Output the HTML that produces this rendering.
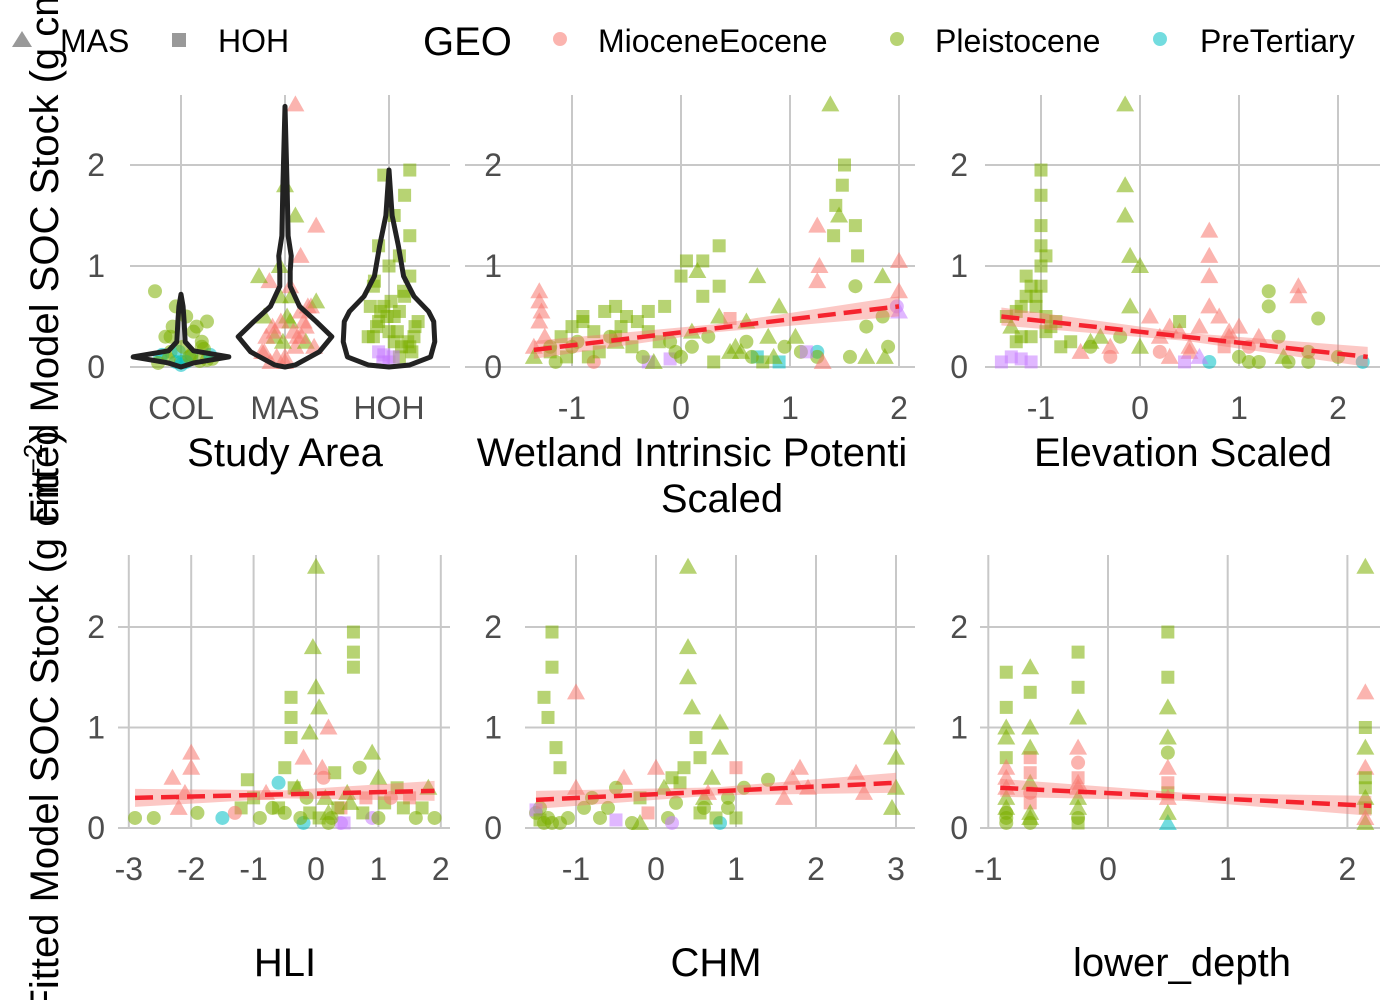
<!DOCTYPE html>
<html><head><meta charset="utf-8"><style>
body{margin:0;background:#fff;}
svg{display:block;font-family:"Liberation Sans",sans-serif;}
.tk{font-size:32px;fill:#4d4d4d;}
.at{font-size:40px;fill:#000;}
</style></head><body>
<svg id="chart" width="1400" height="1000">
<g id="grid"></g><g id="marks"></g><g id="labels"></g>
<g>
 <polygon points="12,47 32,47 22,31" fill="#999"/>
 <text x="60" y="52" class="at" style="font-size:32px">MAS</text>
 <rect x="172" y="33" width="14" height="14" fill="#999"/>
 <text x="218" y="52" class="at" style="font-size:32px">HOH</text>
 <text x="423" y="55" class="at">GEO</text>
 <circle cx="560" cy="39" r="7" fill="#F8766D" opacity="0.55"/>
 <text x="598" y="52" class="at" style="font-size:32px">MioceneEocene</text>
 <circle cx="897" cy="39" r="7" fill="#7CAE00" opacity="0.55"/>
 <text x="935" y="52" class="at" style="font-size:32px">Pleistocene</text>
 <circle cx="1160" cy="39" r="7" fill="#00BFC4" opacity="0.55"/>
 <text x="1200" y="52" class="at" style="font-size:32px">PreTertiary</text>
</g>
<text class="at" transform="translate(58,232) rotate(-90)" text-anchor="middle">Fitted Model SOC Stock (g cm<tspan font-size="26" dy="-16">−2</tspan><tspan dy="16">)</tspan></text>
<text class="at" transform="translate(58,722) rotate(-90)" text-anchor="middle">Fitted Model SOC Stock (g cm<tspan font-size="26" dy="-16">−2</tspan><tspan dy="16">)</tspan></text>
</svg>
<script>
const NS="http://www.w3.org/2000/svg";
const geoColors={M:"#F8766D",P:"#7CAE00",T:"#00BFC4",X:"#C77CFF"};
// Panel 1 data (category index + jitter)
const p1x=[1,1.1,0.9,1.2,0.85,1.25,1.05,0.95,1.15,0.8,1.3,1.0,1.1,0.9,1.2,0.75,1.05,1.25,0.95,0.82,0.88,0.98,1.08,1.18,1.28,0.78,1.02,1.12,0.92,1.22,
 2,2.1,1.9,2.2,1.8,2.25,2.05,1.95,2.15,1.85,2.3,2.0,2.1,1.9,2.2,1.8,2.05,2.15,1.95,2.3,2.1,1.75,2.0,1.82,1.88,1.98,2.08,2.18,2.28,1.78,2.02,2.12,1.92,2.22,1.86,2.06,2.16,1.96,
 3,3.1,2.9,3.2,2.85,3.25,3.05,2.95,3.15,2.85,3.2,3.0,3.1,2.9,3.2,3.05,3.15,2.95,3.2,3.0,2.9,3.1,2.95,3.05,2.8,2.88,2.98,3.08,3.18,3.28,2.82,3.02,3.12,2.92,3.22,3.14,2.86,3.04,3.24,2.94];
const p1y=[0.05,0.1,0.15,0.2,0.3,0.45,0.5,0.6,0.4,0.1,0.08,0.02,0.12,0.3,0.25,0.75,0.05,0.07,0.05,0.12,0.08,0.15,0.1,0.06,0.12,0.04,0.2,0.35,0.4,0.18,
 0.1,0.2,0.3,0.4,0.5,0.6,0.8,1.0,1.1,0.85,1.4,1.8,1.5,0.35,0.25,0.15,0.45,0.55,0.7,0.65,2.6,0.9,0.05,0.3,0.4,0.25,0.35,0.45,0.2,0.15,0.5,0.3,0.1,0.6,0.05,0.7,0.3,0.45,
 0.05,0.1,0.15,0.2,0.3,0.4,0.5,0.6,0.7,0.8,0.9,1.0,1.1,1.2,1.3,1.5,1.7,1.9,1.95,0.35,0.45,0.55,0.12,0.25,0.3,0.4,0.5,0.35,0.25,0.45,0.6,0.65,0.2,0.55,0.15,0.75,0.85,0.1,0.3,0.05];
const p1g="PTPPPPPPPTPTPPPPTPTTPTPPTPPPPP"+"MMPMPMMPMMMPPMPMPMPPMPMMMPMMMMPMMMMPMM"+"XPXPPPPPPPPPPPPPPPPPPPXPPPPPPPPPPPPPPXPX";
const p1s="cccccccccccccccccccccccccccccc"+"tttttttttttttttttttttttttttttttttttttt"+"ssssssssssssssssssssssssssssssssssssssss";
// Panel 2
const p2x=[-1.3,-1.3,-1.28,-1.3,-1.25,-1.35,-1.2,-1.1,-1.0,-0.9,-0.8,-0.7,-0.6,-0.5,-0.4,-0.3,-0.2,-0.6,-0.45,-0.3,-0.15,0.0,0.05,0.15,0.2,0.2,0.35,0.35,0.35,0.5,0.6,0.7,0.8,0.9,0.55,1.25,1.25,1.27,1.37,1.4,1.42,1.45,1.5,1.48,1.6,1.62,1.6,1.7,1.7,1.85,1.85,1.87,2.0,2.0,2.0,1.98,-0.3,-0.1,0.7,0.9,1.25,1.25,-0.8,-0.9,-1.0,0.45,-0.1,1.1,0.1,
 -1.2,-1.05,-0.95,-0.75,-0.65,-0.55,-0.35,-0.25,0.1,0.25,0.45,0.65,0.75,0.95,1.05,1.15,0.3,-0.05,-1.15,-0.85,0.6,0.85,1.9,1.55,1.3,-1.35,-0.6,0.0];
const p2y=[0.75,0.65,0.55,0.45,0.3,0.2,0.15,0.3,0.4,0.5,0.35,0.55,0.6,0.5,0.45,0.35,0.25,0.3,0.2,0.55,0.6,0.9,1.05,0.95,0.7,1.05,1.2,0.8,0.5,0.2,0.45,0.9,0.3,0.6,0.15,1.4,0.85,1.0,2.6,1.3,1.6,1.5,2.0,1.8,1.4,1.1,0.8,0.4,0.1,0.9,0.5,0.1,1.05,0.75,0.55,0.6,0.05,0.08,0.1,0.05,0.15,0.1,0.05,0.45,0.2,0.48,0.25,0.15,0.35,
 0.2,0.1,0.25,0.15,0.3,0.4,0.1,0.05,0.2,0.3,0.15,0.1,0.05,0.2,0.3,0.15,0.05,0.15,0.05,0.1,0.25,0.1,0.2,0.1,0.05,0.1,0.25,0.1];
const p2g="MMMMMMPPPPPPPPPPPPPPPPPPPPPPPPPPPPPMMMPPPPPPPPPPPPPPMMXXXXTTTPMPPMP"+"PPPPPPPPPPPPPPPPPXPPPPPPPPMP";
const p2s="ttttttssssssssssssssssstsssstttttttttttsstssssccttcttttcsssscccscscct"+"cscscsctcctcsctssccsctcctttc";
// Panel 3
const p3x=[-1.4,-1.3,-1.2,-1.1,-1.35,-1.2,-1.1,-1.0,-1.0,-1.0,-1.0,-1.0,-1.05,-0.95,-1.1,-0.9,-1.25,-0.8,-0.6,-0.4,-0.15,-0.15,-0.15,-0.1,-0.1,0.0,0.1,0.2,0.3,0.4,0.5,0.6,0.7,0.7,0.7,0.7,0.8,0.9,1.0,1.1,1.2,1.3,1.3,1.4,1.5,1.6,1.6,1.7,1.8,2.25,0.7,1.1,0.2,-0.5,1.0,0.4,-0.3,
 -1.3,-1.2,-1.15,-1.05,-0.95,-0.85,-1.25,-1.15,-1.0,-0.95,-0.7,-0.5,-0.2,0.0,0.3,0.5,0.9,1.2,1.45,1.7,2.0,-0.3,0.6,0.45,0.85];
const p3y=[0.05,0.1,0.08,0.05,0.5,0.6,0.8,1.95,1.7,1.4,1.2,1.0,0.7,0.5,0.3,0.4,0.25,0.2,0.15,0.3,2.6,1.8,1.5,1.1,0.6,1.0,0.5,0.3,0.4,0.35,0.2,0.4,1.35,1.1,0.9,0.6,0.5,0.3,0.1,0.05,0.05,0.75,0.6,0.3,0.05,0.8,0.7,0.15,0.48,0.05,0.05,0.2,0.15,0.25,0.4,0.45,0.2,
 0.4,0.3,0.9,0.6,0.35,0.45,0.55,0.7,0.8,1.1,0.25,0.2,0.3,0.2,0.1,0.15,0.35,0.3,0.1,0.05,0.1,0.1,0.1,0.05,0.2];
const p3g="XXXXPPPPPPPPPPPPPPMPPPPPPPMMMMMMMMMMMMPPPPPPPMMPPTTMMPMPM"+"PPPPPPPPPPPPPPMMMMPPPMXXM";
const p3s="ssssssssssssssssssttttttttttttttttttttcccccccttccccccttstt"+"ssssssssssccttttttccctssst";
// Panel 4
const p4x=[-2.9,-2.6,-2.3,-2.2,-2.1,-2.0,-2.0,-1.9,-1.5,-1.2,-1.0,-0.8,-0.6,-0.5,-0.4,-0.4,-0.4,-0.3,-0.2,-0.1,-0.05,0.0,0.0,0.05,0.1,0.15,0.2,0.2,0.3,0.4,0.5,0.6,0.6,0.6,0.8,0.9,1.0,1.1,1.3,1.5,1.7,1.8,1.9,-0.2,0.4,0.9,-1.1,
 -0.9,-0.7,-0.5,-0.35,-0.25,-0.15,0.05,0.12,0.25,0.35,0.45,0.7,1.0,1.2,1.4,1.6,-0.6,-0.1,0.2,0.55,0.75,-1.3];
const p4y=[0.1,0.1,0.5,0.2,0.35,0.75,0.6,0.15,0.1,0.2,0.3,0.35,0.2,0.6,1.3,1.1,0.9,0.4,0.7,0.95,1.8,2.6,1.4,1.2,0.6,0.3,1.0,0.15,0.55,0.2,0.35,1.95,1.75,1.6,0.3,0.75,0.5,0.25,0.4,0.3,0.2,0.4,0.1,0.05,0.05,0.1,0.48,
 0.1,0.2,0.15,0.4,0.1,0.3,0.1,0.5,0.1,0.2,0.05,0.6,0.1,0.3,0.2,0.1,0.45,0.15,0.05,0.25,0.15,0.15];
const p4g="PPMMMMMPTPPMPPPPPPMPPPPPMPMPPMPPPPMPPPPMPPPTXXP"+"PPPPPPPMPPXPPMPPTPPPPM";
const p4s="cctttttccsstssssstttttttttttsstssssttsssstccccscc"+"csccsccsscccsccsctsccst";
// Panel 5
const p5x=[-1.5,-1.45,-1.4,-1.35,-1.3,-1.3,-1.25,-1.2,-1.35,-1.4,-1.0,-1.0,-0.8,-0.6,-0.4,-0.2,0.0,0.1,0.2,0.3,0.4,0.4,0.4,0.45,0.5,0.55,0.6,0.7,0.8,0.8,0.9,1.0,1.1,1.4,1.6,1.7,1.8,1.9,2.5,2.6,2.95,3.0,3.0,2.95,-1.5,-0.5,0.8,-1.2,
 -1.3,-1.1,-0.9,-0.7,-0.3,-0.1,0.15,0.25,0.35,0.55,0.65,0.75,0.9,1.0,0.2,-0.5,-1.45,-0.2,0.6];
const p5y=[0.15,0.2,1.3,1.1,1.95,1.6,0.8,0.6,0.1,0.05,1.35,0.4,0.3,0.2,0.5,0.3,0.6,0.4,0.5,0.45,2.6,1.8,1.5,1.2,0.9,0.7,0.3,0.5,1.05,0.8,0.2,0.6,0.4,0.48,0.3,0.5,0.6,0.4,0.55,0.35,0.9,0.7,0.4,0.2,0.18,0.08,0.05,0.05,
 0.05,0.1,0.2,0.1,0.05,0.15,0.1,0.25,0.6,0.15,0.35,0.1,0.3,0.1,0.05,0.4,0.08,0.05,0.2];
const p5g="PPPPPPPPPPMMPPMPMPPPPPPPPPPPPPPMPPMMMMMMPPPPXXTP"+"PPPPPMPPPPMPPPXPPPP";
const p5s="ccssssssccttcctsttssttttssttttcsccttttttttttssccc"+"ccccsccsstscsccstcs";
// Panel 6
const p6x=[-0.85,-0.85,-0.85,-0.85,-0.85,-0.85,-0.85,-0.85,-0.65,-0.65,-0.65,-0.65,-0.65,-0.65,-0.65,-0.25,-0.25,-0.25,-0.25,-0.25,-0.25,-0.25,0.5,0.5,0.5,0.5,0.5,0.5,0.5,2.15,2.15,2.15,2.15,2.15,2.15,2.15,2.15,-0.85,-0.65,-0.25,0.5,
 -0.85,-0.85,-0.85,-0.65,-0.65,-0.65,-0.25,-0.25,-0.25,0.5,0.5,0.5,2.15,2.15,2.15,-0.85,-0.65,-0.25];
const p6y=[1.55,1.2,0.9,0.7,0.5,0.3,0.15,0.05,1.6,1.35,1.0,0.7,0.45,0.25,0.1,1.75,1.4,1.1,0.8,0.5,0.3,0.1,1.95,1.5,1.2,0.9,0.6,0.35,0.05,2.6,1.35,1.0,0.8,0.6,0.4,0.2,0.05,0.4,0.35,0.45,0.3,
 1.0,0.6,0.2,0.8,0.55,0.15,0.65,0.2,0.05,0.75,0.45,0.15,0.3,0.1,0.5,0.1,0.05,0.4];
const p6g="PPPPMPPPPPPMPMPPPPMMPPPPPPMPTPMPPMPPPMMMM"+"PMPPMPMPPPMPPMPPPM";
const p6s="sststtcctstststssttstcsstttstttsttssttcttt"+"tttstctscstttscctt";
// Violin profiles: [value, half-width in category units]
const vCOL=[[0.0,0],[0.04,0.12],[0.1,0.46],[0.16,0.12],[0.25,0.04],[0.45,0.03],[0.6,0.02],[0.72,0]];
const vMAS=[[0.0,0],[0.02,0.1],[0.15,0.33],[0.3,0.45],[0.45,0.3],[0.6,0.14],[0.8,0.05],[0.95,0.05],[1.1,0.06],[1.3,0.03],[1.8,0.02],[2.58,0]];
const vHOH=[[0.0,0],[0.02,0.2],[0.1,0.4],[0.25,0.44],[0.45,0.43],[0.55,0.38],[0.7,0.24],[0.9,0.14],[1.2,0.09],[1.5,0.03],[1.95,0]];
// Regression fits: [xStart,yStart,xEnd,yEnd]
const fit2=[-1.35,0.17,2.0,0.6],fit3=[-1.4,0.5,2.3,0.1],fit4=[-2.9,0.3,1.9,0.37],fit5=[-1.5,0.28,3.0,0.45],fit6=[-0.9,0.4,2.2,0.22];
const xt2=[-1,0,1,2],xt3=[-1,0,1,2],xt4=[-3,-2,-1,0,1,2],xt5=[-1,0,1,2,3],xt6=[-1,0,1,2],yt=[0,1,2];

const grid=document.getElementById('grid'),marks=document.getElementById('marks'),labels=document.getElementById('labels');
function el(tag,attrs,parent){const e=document.createElementNS(NS,tag);for(const k in attrs)e.setAttribute(k,attrs[k]);parent.appendChild(e);return e;}
const panels=[
 {id:'study-area',x0:285,sx:104,left:130,right:450,top:95,y0:367,sy:101,ticks:[1,2,3],tl:['COL','MAS','HOH'],ylab:105,X:p1x,Y:p1y,G:p1g,S:p1s},
 {id:'wetland',x0:681,sx:109,left:465,right:915,top:95,y0:367,sy:101,ticks:xt2,ylab:502,X:p2x,Y:p2y,G:p2g,S:p2s,fit:fit2},
 {id:'elevation',x0:1140,sx:99,left:985,right:1380,top:95,y0:367,sy:101,ticks:xt3,ylab:968,X:p3x,Y:p3y,G:p3g,S:p3s,fit:fit3},
 {id:'hli',x0:316,sx:62.4,left:118,right:450,top:555,y0:828,sy:100.5,ticks:xt4,ylab:105,X:p4x,Y:p4y,G:p4g,S:p4s,fit:fit4},
 {id:'chm',x0:656,sx:80,left:525,right:915,top:555,y0:828,sy:100.5,ticks:xt5,ylab:502,X:p5x,Y:p5y,G:p5g,S:p5s,fit:fit5},
 {id:'lower-depth',x0:1108,sx:119.7,left:980,right:1380,top:555,y0:828,sy:100.5,ticks:xt6,ylab:968,X:p6x,Y:p6y,G:p6g,S:p6s,fit:fit6}];
panels.forEach((p,pi)=>{
 const fx=v=>p.x0+(pi===0?(v-2):v)*p.sx, fy=v=>p.y0-v*p.sy;
 yt.forEach(t=>{
  const l=el('line',{x1:p.left,x2:p.right,y1:fy(t),y2:fy(t),stroke:'#c8c8c8','stroke-width':2},grid);
  
  
  const tx=el('text',{x:p.ylab,y:fy(t)+11,'text-anchor':'end',class:'tk'},labels);tx.textContent=t;
  
  
 });
 p.ticks.forEach((t,i)=>{
  const l=el('line',{x1:fx(t),x2:fx(t),y1:p.top,y2:p.y0,stroke:'#c8c8c8','stroke-width':2},grid);
  
  
  const tx=el('text',{x:fx(t),y:p.y0+52,'text-anchor':'middle',class:'tk'},labels);tx.textContent=p.tl?p.tl[i]:String(t);
  
  
 });
 p.X.forEach((xv,i)=>{
  const cx=fx(xv),cy=fy(p.Y[i]),col=geoColors[p.G[i]]||'#7CAE00',s=p.S[i];let m;
  if(s==='t')m=el('polygon',{points:(cx-9)+','+(cy+7)+' '+(cx+9)+','+(cy+7)+' '+cx+','+(cy-9)},marks);
  else if(s==='s')m=el('rect',{x:cx-6.5,y:cy-6.5,width:13,height:13},marks);
  else m=el('circle',{cx:cx,cy:cy,r:7},marks);
  m.setAttribute('fill',col);m.setAttribute('opacity','0.55');
  
  
 });
 if(pi===0){
  [vCOL,vMAS,vHOH].forEach((v,ci)=>{
   const c=ci+1;let r=v.map(q=>(fx(c)+q[1]*p.sx)+','+fy(q[0]));let lft=v.slice().reverse().map(q=>(fx(c)-q[1]*p.sx)+','+fy(q[0]));
   const pg=el('polygon',{points:r.concat(lft).join(' '),fill:'none',stroke:'#222','stroke-width':5,'stroke-linejoin':'round'},marks);
   
   
  });
 }
 if(p.fit){
  const f=p.fit,x1=fx(f[0]),x2=fx(f[2]),y1=fy(f[1]),y2=fy(f[3]);
  const rb=el('polygon',{points:`${x1},${y1-9} ${(x1+x2)/2},${(y1+y2)/2-4} ${x2},${y2-10} ${x2},${y2+10} ${(x1+x2)/2},${(y1+y2)/2+4} ${x1},${y1+9}`,fill:'#F8766D',opacity:'0.4'},marks);
  
  
  const ln=el('line',{x1:x1,y1:y1,x2:x2,y2:y2,stroke:'#F5222D','stroke-width':4.5,'stroke-dasharray':'18,8'},marks);
  
  
 }
});
const titles=[['Study Area',285,466],['Wetland Intrinsic Potenti',692,466],['Scaled',722,512],['Elevation Scaled',1183,466],['HLI',285,976],['CHM',716,976],['lower_depth',1182,976]];
titles.forEach(t=>{const e=el('text',{x:t[1],y:t[2],'text-anchor':'middle',class:'at'},labels);e.textContent=t[0];
 
 });
</script>
</body></html>
